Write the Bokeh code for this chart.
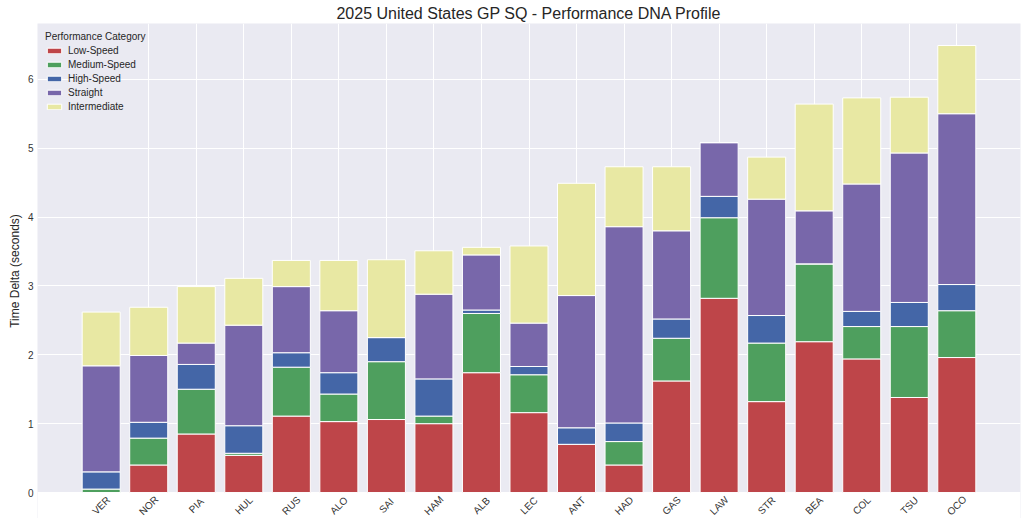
from math import pi
from bokeh.plotting import figure
from bokeh.models import Range1d, FixedTicker, ColumnDataSource, Legend, BoxAnnotation
from bokeh.core.properties import value
from bokeh.embed import file_html
from bokeh.resources import INLINE

drivers = ["VER", "NOR", "PIA", "HUL", "RUS", "ALO", "SAI", "HAM", "ALB", "LEC",
           "ANT", "HAD", "GAS", "LAW", "STR", "BEA", "COL", "TSU", "OCO"]
low_speed = [0.00, 0.40, 0.85, 0.54, 1.11, 1.03, 1.06, 1.00, 1.74, 1.16,
             0.70, 0.40, 1.62, 2.82, 1.32, 2.19, 1.94, 1.38, 1.96]
medium_speed = [0.05, 0.39, 0.65, 0.03, 0.71, 0.40, 0.84, 0.11, 0.86, 0.55,
                0.00, 0.34, 0.62, 1.17, 0.85, 1.13, 0.47, 1.03, 0.68]
high_speed = [0.25, 0.23, 0.36, 0.40, 0.21, 0.31, 0.35, 0.54, 0.05, 0.12,
              0.24, 0.27, 0.28, 0.31, 0.40, 0.00, 0.22, 0.35, 0.38]
straight = [1.54, 0.97, 0.31, 1.46, 0.96, 0.90, 0.00, 1.23, 0.80, 0.63,
            1.92, 2.85, 1.28, 0.78, 1.69, 0.77, 1.85, 2.17, 2.48]
intermediate = [0.78, 0.70, 0.82, 0.68, 0.38, 0.73, 1.13, 0.63, 0.11, 1.12,
                1.63, 0.87, 0.93, 0.00, 0.61, 1.55, 1.25, 0.81, 0.99]

categories = ["Low-Speed", "Medium-Speed", "High-Speed", "Straight", "Intermediate"]
keys = ["low", "med", "high", "straight", "inter"]
colors = ["#BE4549", "#4E9F5E", "#4466A7", "#7867AA", "#E8E8A3"]
y_ticks = [0, 1, 2, 3, 4, 5, 6]

FONT = "Liberation Sans"

xs = list(range(len(drivers)))
source = ColumnDataSource(dict(
    x=xs, name=drivers, base=[0] * len(drivers),
    low=low_speed, med=medium_speed, high=high_speed,
    straight=straight, inter=intermediate,
))

p = figure(width=1024, height=518, output_backend="svg", toolbar_location=None,
           x_range=Range1d(-1.34, 19.34), y_range=Range1d(-0.377, 6.81),
           x_axis_location=None,
           title="2025 United States GP SQ - Performance DNA Profile",
           min_border_left=37, min_border_right=4, min_border_top=22, min_border_bottom=0)

p.background_fill_color = "#EAEAF2"
p.border_fill_color = "white"
p.outline_line_color = None

p.title.align = "center"
p.title.text_font = FONT
p.title.text_font_size = "16px"
p.title.text_font_style = "normal"
p.title.text_color = "#262626"
p.title.standoff = 4
p.title.offset = 0

# white strip under the zero line, where the driver labels sit (matplotlib-like bottom margin)
p.add_layout(BoxAnnotation(top=0, fill_color="white", fill_alpha=1.0,
                           line_color=None, level="underlay"))

renderers = p.vbar_stack(keys, x="x", width=0.8, source=source,
                         fill_color=colors, line_color="white", line_width=1)

# rotated driver labels, centered under each bar
p.text(x="x", y="base", text="name", source=source, angle=pi / 4,
       text_align="center", text_baseline="middle", y_offset=13,
       text_font=value(FONT), text_font_size="10px", text_color="#333333")

legend = Legend(items=[(c, [r]) for c, r in zip(categories, renderers)],
                location="top_left", title="Performance Category")
legend.title_text_font = FONT
legend.title_text_font_size = "10px"
legend.title_text_font_style = "normal"
legend.title_text_color = "#262626"
legend.title_standoff = 3
legend.label_text_font = FONT
legend.label_text_font_size = "10px"
legend.label_text_color = "#262626"
legend.glyph_width = 18
legend.glyph_height = 7
legend.label_height = 10
legend.spacing = 3
legend.padding = 3
legend.margin = 5
legend.background_fill_alpha = 0
legend.border_line_alpha = 0
p.add_layout(legend)

p.yaxis.ticker = FixedTicker(ticks=y_ticks)
ax = p.yaxis
ax.axis_line_color = None
ax.major_tick_line_color = None
ax.minor_tick_line_color = None
ax.major_tick_out = 0
ax.major_tick_in = 0
ax.minor_tick_out = 0
ax.minor_tick_in = 0
ax.major_label_text_font = FONT
ax.major_label_text_color = "#333333"
ax.major_label_standoff = 4
ax.major_label_text_font_size = "10px"
ax.axis_label = "Time Delta (seconds)"
ax.axis_label_text_font = FONT
ax.axis_label_text_font_size = "12px"
ax.axis_label_text_font_style = "normal"
ax.axis_label_text_color = "#262626"
ax.axis_label_standoff = 3

p.xgrid.ticker = FixedTicker(ticks=xs[1:])
p.grid.grid_line_color = "white"
p.grid.grid_line_width = 1

open("out.html", "w").write(file_html(p, INLINE))
